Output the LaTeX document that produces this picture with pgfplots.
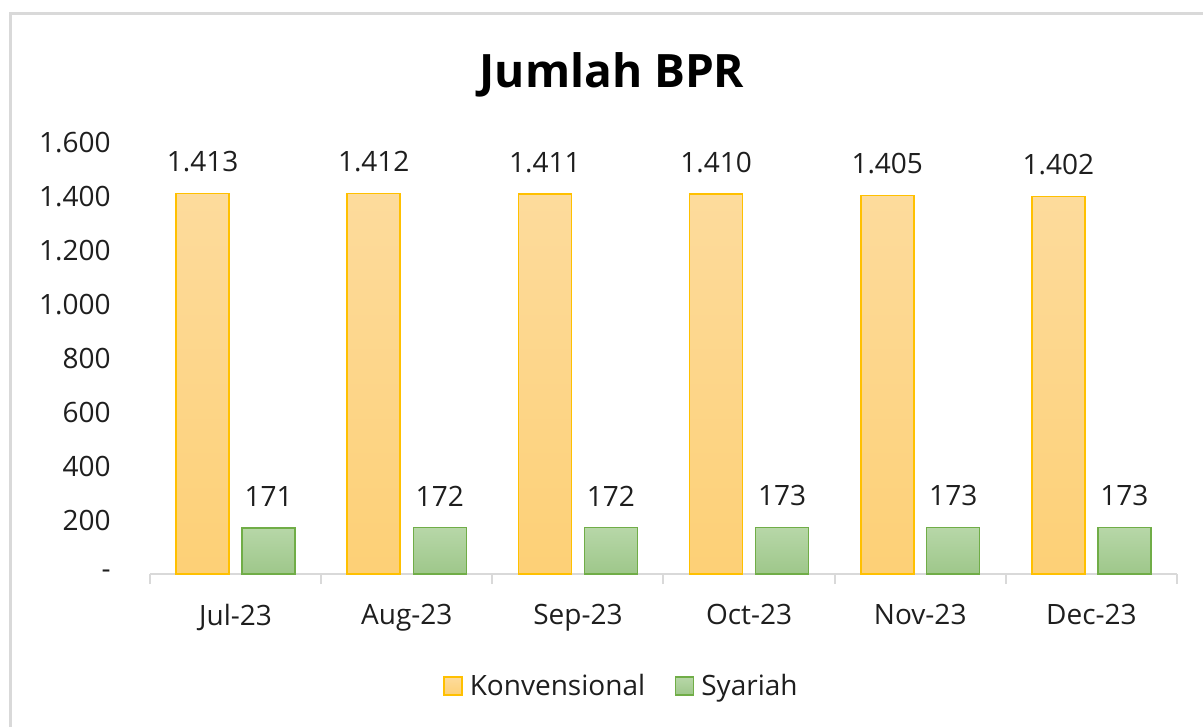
\documentclass[border=0pt]{standalone}
\usepackage{pgfplots}
\pgfplotsset{compat=1.18}
\usepackage{fontspec}
\setmainfont{Open Sans}
\definecolor{orTop}{RGB}{253,219,156}
\definecolor{orBot}{RGB}{253,208,118}
\definecolor{orEdge}{RGB}{255,192,0}
\definecolor{grTop}{RGB}{183,215,168}
\definecolor{grBot}{RGB}{158,199,138}
\definecolor{grEdge}{RGB}{112,173,71}
\definecolor{axgray}{RGB}{217,217,217}
\definecolor{txt}{RGB}{30,30,30}
\begin{document}
\begin{tikzpicture}
\begin{axis}[
  scale only axis, width=513.5pt, height=215.5pt,
  xmin=-0.5, xmax=5.5, ymin=0, ymax=1600,
  axis x line=bottom, axis y line=left,
  x axis line style={-, draw=axgray, line width=1pt},
  y axis line style={draw=none},
  xtick={0,1,2,3,4,5},
  xticklabels={Jul-23,Aug-23,Sep-23,Oct-23,Nov-23,Dec-23},
  xtick style={draw=none},
  extra x ticks={-0.5,0.5,1.5,2.5,3.5,4.5,5.5},
  extra x tick labels={},
  extra x tick style={xtick style={draw=axgray, line width=1pt}, major tick length=5pt, tick align=outside},
  ytick={0,200,400,600,800,1000,1200,1400,1600},
  yticklabels={-,200,400,600,800,{1.000},{1.200},{1.400},{1.600}},
  ytick style={draw=none},
  yticklabel style={anchor=east, xshift=-14pt},
  xticklabel style={yshift=-7.5pt},
  tick label style={font=\fontsize{14}{17}\selectfont, text=txt},
  /pgf/number format/assume math mode=true,
  /pgf/number format/1000 sep={.},
  ybar, bar width=26.5pt,
  nodes near coords,
  nodes near coords style={font=\fontsize{14}{17}\selectfont, text=txt, yshift=7pt},
  legend style={at={(0.46,-0.26)}, anchor=center, draw=none, legend columns=2,
    font=\fontsize{14}{17}\selectfont, text=txt,
    /tikz/every odd column/.append style={column sep=1.5pt},
    /tikz/every even column/.append style={column sep=13pt}},
  legend image code/.code={\draw[#1] (0pt,-4.5pt) rectangle (9pt,4.5pt);},
  clip=false,
]
\addplot[bar shift=-16.5pt, draw=orEdge, line width=0.8pt, top color=orTop, bottom color=orBot]
  coordinates {(0,1413) (1,1412) (2,1411) (3,1410) (4,1405) (5,1402)};
\addplot[bar shift=16.5pt, draw=grEdge, line width=0.6pt, top color=grTop, bottom color=grBot]
  coordinates {(0,171) (1,172) (2,172) (3,173) (4,173) (5,173)};
\legend{Konvensional, Syariah}
\coordinate (O) at (axis cs:-0.5,0);
\end{axis}
\begin{scope}[shift={(O)}]
\draw[axgray, line width=1.5pt] (-69.75pt,-100pt) -- (-69.75pt,280.25pt) -- (560pt,280.25pt);
\node[font=\bfseries\fontsize{23}{27}\selectfont, text=black] at (231pt,249.5pt) {Jumlah BPR};
\end{scope}
\pgfresetboundingbox
\path[use as bounding box, shift={(O)}] (-75pt,-76.5pt) rectangle (526.5pt,287pt);
\end{tikzpicture}
\end{document}
